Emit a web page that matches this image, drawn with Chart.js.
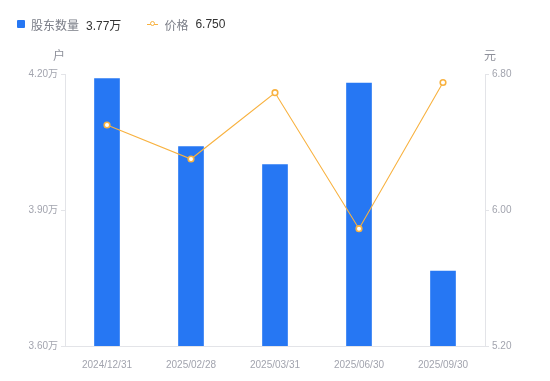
<!DOCTYPE html>
<html>
<head>
<meta charset="utf-8">
<script src="https://cdn.jsdelivr.net/npm/chart.js@4.4.1/dist/chart.umd.min.js"></script>
<style>
  html, body { margin: 0; padding: 0; background: #fff; }
  #wrap { position: relative; width: 550px; height: 381px; }
  #legend { position: absolute; left: 17px; top: 15px; font-family: "Liberation Sans", "Noto Sans CJK SC", sans-serif; font-size: 12px; display: flex; align-items: center; height: 18px; }
  .item { display: flex; align-items: center; margin-right: 26px; }
  .sq { width: 8px; height: 8px; background: #2677f3; border-radius: 1px; margin-right: 6px; }
  .ln { position: relative; width: 11px; height: 8px; margin-right: 6px; }
  .ln::before { content: ""; position: absolute; left: 0; right: 0; top: 3.5px; height: 1px; background: #f8b240; }
  .ln::after { content: ""; position: absolute; left: 2.5px; top: 1px; width: 3px; height: 3px; border: 1.5px solid #f8b240; border-radius: 50%; background: #fff; }
  .nm { color: #7a7d87; margin-right: 7px; }
  .vl { color: #333; }
  canvas { position: absolute; left: 0; top: 0; }
</style>
</head>
<body>
<div id="wrap">
  <canvas id="c" width="550" height="381"></canvas>
  <div id="legend"></div>
</div>
<script>
const categories = ["2024/12/31", "2025/02/28", "2025/03/31", "2025/06/30", "2025/09/30"];
const holders = [41900, 40400, 40000, 41800, 37650];
const prices = [6.50, 6.30, 6.69, 5.89, 6.75];
const leftTicks = [36000, 39000, 42000];
const rightTicks = [5.20, 6.00, 6.80];
const seriesNames = ["股东数量", "价格"];
const legendValues = ["3.77万", "6.750"];
const axisUnits = ["户", "元"];

const BLUE = "#2677f3";
const ORANGE = "#f8b240";
const TICK_COLOR = "#a2a4ae";
const AXIS_COLOR = "#e3e4e8";
const FONT = '"Liberation Sans", "Noto Sans CJK SC", sans-serif';

const lg = document.getElementById("legend");
lg.innerHTML =
  '<div class="item"><span class="sq"></span><span class="nm">' + seriesNames[0] + '</span><span class="vl">' + legendValues[0] + '</span></div>' +
  '<div class="item"><span class="ln"></span><span class="nm">' + seriesNames[1] + '</span><span class="vl">' + legendValues[1] + '</span></div>';

const unitPlugin = {
  id: "units",
  afterDraw(chart) {
    const ctx = chart.ctx, a = chart.chartArea;
    ctx.save();
    ctx.font = "12px " + FONT;
    ctx.fillStyle = "#8e909a";
    ctx.textBaseline = "middle";
    ctx.textAlign = "center";
    ctx.fillText(axisUnits[0], a.left - 6, a.top - 17);
    ctx.fillText(axisUnits[1], a.right + 5, a.top - 17);
    ctx.restore();
  }
};

new Chart(document.getElementById("c"), {
  data: {
    labels: categories,
    datasets: [
      {
        type: "line",
        label: seriesNames[1],
        data: prices,
        yAxisID: "y1",
        borderColor: ORANGE,
        borderWidth: 1.1,
        pointRadius: 2.8,
        pointBorderWidth: 1.6,
        pointBackgroundColor: "#fff",
        pointBorderColor: ORANGE,
        tension: 0,
        order: 0
      },
      {
        type: "bar",
        label: seriesNames[0],
        data: holders,
        yAxisID: "y",
        backgroundColor: BLUE,
        barThickness: 25,
        order: 1
      }
    ]
  },
  options: {
    responsive: false,
    animation: false,
    layout: { padding: { top: 74, left: 0, right: 0, bottom: 0 } },
    plugins: { legend: { display: false }, tooltip: { enabled: false } },
    scales: {
      x: {
        offset: true,
        grid: { display: false },
        border: { display: true, color: AXIS_COLOR },
        ticks: { color: TICK_COLOR, font: { family: FONT, size: 10 }, padding: 5, maxRotation: 0 },
        afterFit(s) { s.height = 35; }
      },
      y: {
        position: "left",
        min: leftTicks[0],
        max: leftTicks[leftTicks.length - 1],
        afterBuildTicks(s) { s.ticks = leftTicks.map(v => ({ value: v })); },
        grid: { drawOnChartArea: false, drawTicks: true, tickLength: 4, color: AXIS_COLOR },
        border: { display: true, color: AXIS_COLOR },
        ticks: {
          color: TICK_COLOR, font: { family: FONT, size: 10 }, padding: 3,
          callback: v => (v / 10000).toFixed(2) + "万"
        },
        afterFit(s) { s.width = 65; }
      },
      y1: {
        position: "right",
        min: rightTicks[0],
        max: rightTicks[rightTicks.length - 1],
        afterBuildTicks(s) { s.ticks = rightTicks.map(v => ({ value: v })); },
        grid: { drawOnChartArea: false, drawTicks: true, tickLength: 4, color: AXIS_COLOR },
        border: { display: true, color: AXIS_COLOR },
        ticks: {
          color: TICK_COLOR, font: { family: FONT, size: 10 }, padding: 3,
          callback: v => Number(v).toFixed(2)
        },
        afterFit(s) { s.width = 65; }
      }
    }
  },
  plugins: [unitPlugin]
});
</script>
</body>
</html>
